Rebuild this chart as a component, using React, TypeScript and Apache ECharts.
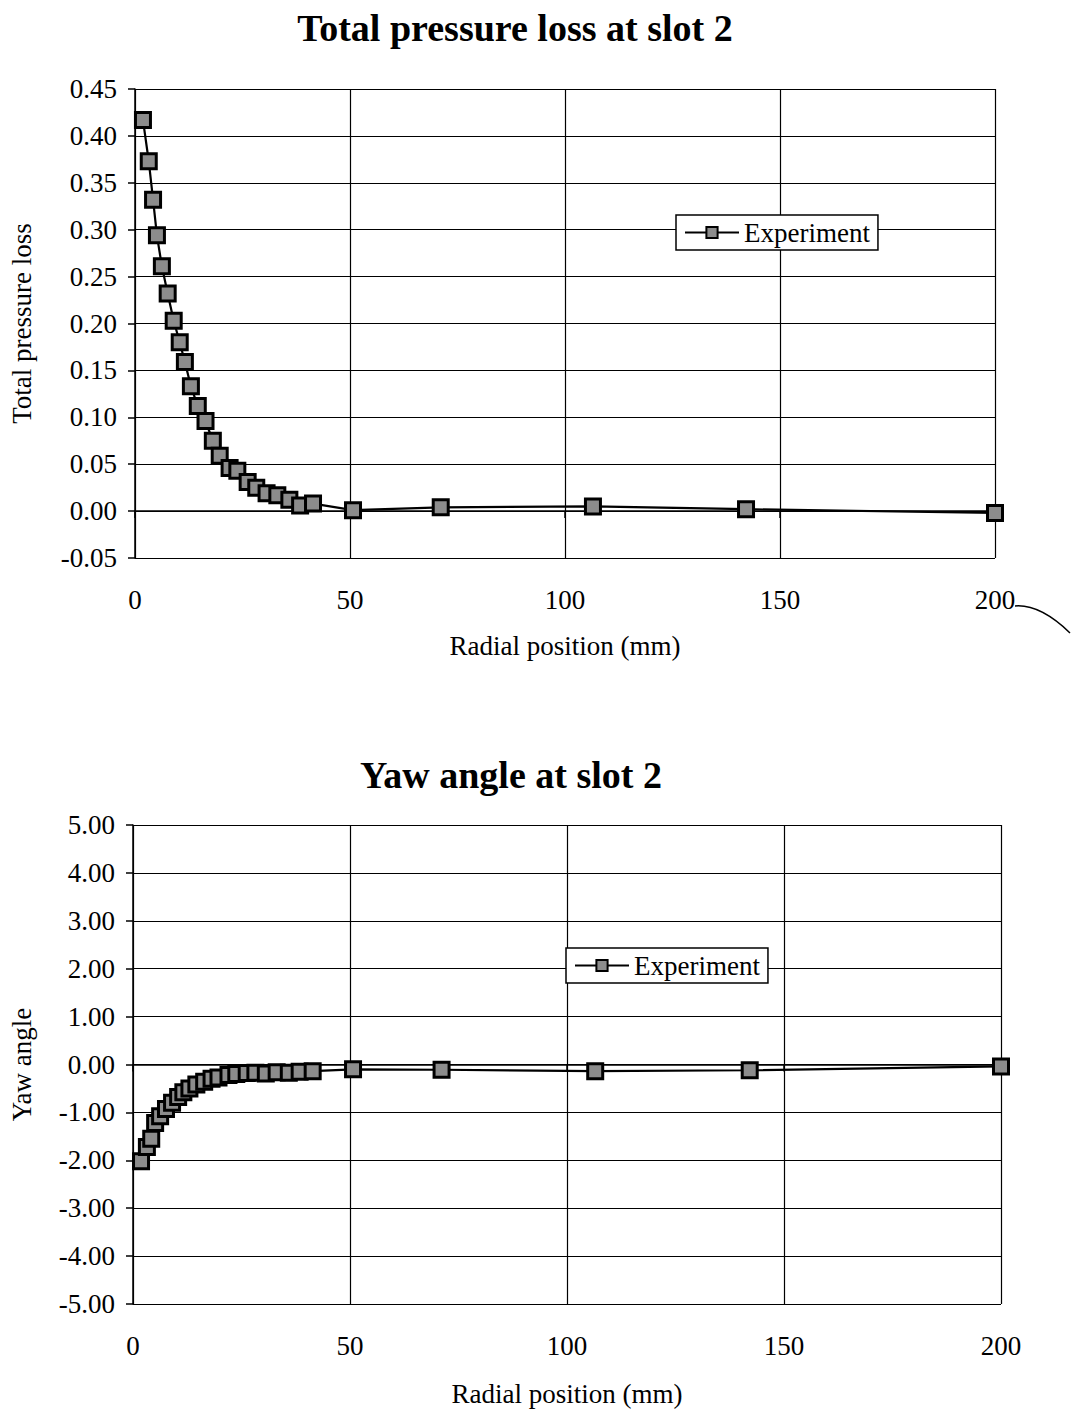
import React, { useEffect, useRef } from "react";
import * as echarts from "echarts";

const radialPos = [1.85, 3.2, 4.2, 5.1, 6.25, 7.6, 9.0, 10.4, 11.6, 13.0, 14.6, 16.4, 18.1, 19.7, 22.0, 23.8, 26.2, 28.2, 30.6, 33.1, 35.9, 38.4, 41.4, 50.7, 71.1, 106.5, 142.1, 200.0];
const pressureLoss = [0.417, 0.373, 0.332, 0.294, 0.261, 0.232, 0.203, 0.18, 0.159, 0.133, 0.112, 0.096, 0.075, 0.059, 0.046, 0.043, 0.031, 0.025, 0.019, 0.017, 0.012, 0.006, 0.008, 0.001, 0.004, 0.005, 0.002, -0.002];
const yawAngle = [-2.02, -1.72, -1.55, -1.22, -1.08, -0.93, -0.8, -0.68, -0.58, -0.5, -0.42, -0.36, -0.3, -0.27, -0.22, -0.2, -0.18, -0.17, -0.19, -0.16, -0.17, -0.15, -0.14, -0.1, -0.11, -0.14, -0.12, -0.04];

const titles = ["Total pressure loss at slot 2", "Yaw angle at slot 2"];
const xName = "Radial position (mm)";
const yNames = ["Total pressure loss", "Yaw angle"];
const seriesName = "Experiment";

const FONT = "'Liberation Serif', 'Times New Roman', serif";

export default function App() {
  const ref = useRef<HTMLDivElement>(null);
  useEffect(() => {
    if (!ref.current) return;
    const chart = echarts.init(ref.current, undefined, { renderer: "svg" });
    const axisCommon = {
      axisLine: { show: true, lineStyle: { color: "#000", width: 1.5 } },
      axisTick: { show: true, length: 7, lineStyle: { color: "#000", width: 1.5 } },
      splitLine: { show: true, lineStyle: { color: "#000", width: 1.2 } },
    };
    const xAxis = (gi: number, margin: number, gap: number) => ({
      type: "value",
      gridIndex: gi,
      min: 0,
      max: 200,
      interval: 50,
      name: xName,
      nameLocation: "middle",
      nameGap: gap,
      nameTextStyle: { fontFamily: FONT, fontSize: 27, color: "#000" },
      axisLabel: { margin, fontFamily: FONT, fontSize: 27, color: "#000" },
      ...axisCommon,
    });
    const yLabel = {
      margin: 18,
      fontFamily: FONT,
      fontSize: 27,
      color: "#000",
      formatter: (v: number) => v.toFixed(2),
    };
    const seriesStyle = {
      type: "line",
      name: seriesName,
      symbol: "rect",
      symbolSize: 15,
      showSymbol: true,
      lineStyle: { color: "#000", width: 2.2 },
      itemStyle: { color: "#8c8c8c", borderColor: "#000", borderWidth: 3 },
    };
    const legendCommon = {
      data: [seriesName],
      orient: "horizontal",
      itemWidth: 54,
      itemHeight: 14,
      itemGap: 5,
      padding: [4, 8, 4, 8],
      borderColor: "#000",
      borderWidth: 1.5,
      backgroundColor: "#fff",
      selectedMode: false,
      textStyle: { fontFamily: FONT, fontSize: 27, color: "#000" },
    };
    chart.setOption({
      animation: false,
      backgroundColor: "#fff",
      grid: [
        { left: 131, top: 89, width: 864, height: 469 },
        { left: 133, top: 825, width: 868, height: 479 },
      ],
      xAxis: [xAxis(0, 28, 74), xAxis(1, 28, 76)],
      yAxis: [
        {
          type: "value",
          gridIndex: 0,
          min: -0.05,
          max: 0.45,
          interval: 0.05,
          name: yNames[0],
          nameLocation: "middle",
          nameGap: 100,
          nameTextStyle: { fontFamily: FONT, fontSize: 27, color: "#000" },
          axisLabel: yLabel,
          ...axisCommon,
        },
        {
          type: "value",
          gridIndex: 1,
          min: -5,
          max: 5,
          interval: 1,
          name: yNames[1],
          nameLocation: "middle",
          nameGap: 98,
          nameTextStyle: { fontFamily: FONT, fontSize: 27, color: "#000" },
          axisLabel: yLabel,
          ...axisCommon,
        },
      ],
      legend: [
        { ...legendCommon, left: 676, top: 215 },
        { ...legendCommon, left: 566, top: 948 },
      ],
      series: [
        {
          ...seriesStyle,
          xAxisIndex: 0,
          yAxisIndex: 0,
          data: radialPos.map((x, i) => [x, pressureLoss[i]]),
        },
        {
          ...seriesStyle,
          xAxisIndex: 1,
          yAxisIndex: 1,
          data: radialPos.map((x, i) => [x, yawAngle[i]]),
        },
      ],
      graphic: [
        {
          type: "text",
          x: 515,
          y: 28,
          style: {
            text: titles[0],
            fontFamily: FONT,
            fontWeight: "bold",
            fontSize: 38,
            fill: "#000",
            textAlign: "center",
            textVerticalAlign: "middle",
          },
        },
        {
          type: "text",
          x: 511,
          y: 775,
          style: {
            text: titles[1],
            fontFamily: FONT,
            fontWeight: "bold",
            fontSize: 38,
            fill: "#000",
            textAlign: "center",
            textVerticalAlign: "middle",
          },
        },
        {
          type: "bezierCurve",
          shape: { x1: 1015, y1: 606, x2: 1070, y2: 633, cpx1: 1040, cpy1: 604 },
          style: { stroke: "#000", lineWidth: 1.5, fill: "none" },
        },
      ],
    });
    return () => chart.dispose();
  }, []);
  return (
    <div
      ref={ref}
      style={{ position: "absolute", left: 0, top: 0, width: 1074, height: 1413, background: "#fff" }}
    />
  );
}
